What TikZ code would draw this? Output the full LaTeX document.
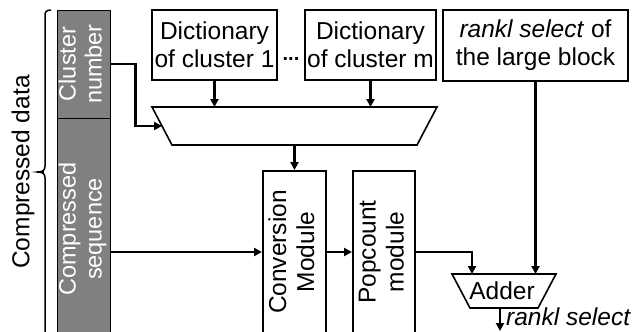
\documentclass[tikz,border=0pt]{standalone}
\usepackage{fontspec}
\usepackage{graphicx}
\setmainfont{Liberation Sans}
\usetikzlibrary{arrows.meta}
\definecolor{bargray}{RGB}{128,128,128}
\tikzset{
  box/.style={draw=black, line width=2bp, fill=white, inner sep=0pt, align=center,
    font=\fontsize{24.5bp}{28bp}\selectfont},
  graybox/.style={draw=black, line width=1bp, fill=bargray, inner sep=0pt, text=white,
    font=\fontsize{23.5bp}{26bp}\selectfont},
  arr/.style={line width=2.6bp, -{Triangle[length=8bp,width=8bp]}},
  shapeline/.style={draw=black, line width=1.6bp, fill=white},
  lbl/.style={inner sep=0pt, font=\fontsize{24.5bp}{28bp}\selectfont}
}
\begin{document}
\begin{tikzpicture}[x=1bp, y=-1bp]
\useasboundingbox (0,0) rectangle (635,331);
\clip (0,0) rectangle (635,331);
% left label and brace
\node[lbl, rotate=90] (cdata) at (23,172) {Compressed data};
\draw[line width=1.5bp] (51,10) .. controls (46,10) and (45,12) .. (45,16) -- (45,166)
  .. controls (45,170) and (43,172) .. (38,172) .. controls (43,172) and (45,174) .. (45,178) -- (45,335);
\draw[line width=2.5bp] (37,172) -- (44,172);
% gray bar
\node[graybox, minimum width=53bp, minimum height=108bp] (cn) at (83.5,64)
  {\rotatebox{90}{\begin{tabular}{@{}c@{}}Cluster\\number\end{tabular}}};
\node[graybox, minimum width=53bp, minimum height=222bp] (cs) at (83.5,229)
  {\rotatebox{90}{\begin{tabular}{@{}c@{}}Compressed\\sequence\end{tabular}}};
% dictionaries and rank/select box
\node[box, minimum width=125bp, minimum height=70bp] (d1) at (214.5,45) {Dictionary\\of cluster 1};
\node[box, minimum width=131bp, minimum height=70bp] (dm) at (370.5,45) {Dictionary\\of cluster m};
\node[lbl, font=\bfseries\fontsize{20bp}{22bp}\selectfont] (dots) at (291,59) {...};
\node[box, minimum width=185bp, minimum height=71bp] (rank) at (535.5,45.5) {\textit{rankl select} of\\the large block};
% mux
\draw[shapeline] (152,107) -- (437,107) -- (417,145) -- (172,145) -- cycle;
\coordinate (muxin) at (162,126);
\coordinate (muxtop) at (294,107);
\coordinate (muxout) at (294.5,145);
% modules
\node[box, minimum width=63bp, minimum height=162bp] (conv) at (294.5,252)
  {\rotatebox{90}{\begin{tabular}{@{}c@{}}Conversion\\Module\end{tabular}}};
\node[box, minimum width=62bp, minimum height=162bp] (pop) at (384,252)
  {\rotatebox{90}{\begin{tabular}{@{}c@{}}Popcount\\module\end{tabular}}};
% adder
\draw[shapeline] (452,274) -- (556,274) -- (538,308) -- (470,308) -- cycle;
\node[lbl] (adder) at (502,291) {Adder};
\coordinate (addin) at (472,274);
\coordinate (addout) at (500,308);
\coordinate (outend) at (500,331);
\node[lbl, anchor=west] (res) at (506,317) {\textit{rankl select}};
% connectors
\draw[arr] (cn.east) -- ++(25,0) |- (muxin);
\draw[arr] (d1.south) -- (d1.south |- muxtop);
\draw[arr] (dm.south) -- (dm.south |- muxtop);
\draw[arr] (muxout) -- (conv.north);
\draw[arr] (cs.east |- conv.west) -- (conv.west);
\draw[arr] (conv.east) -- (pop.west);
\draw[arr] (pop.east) -| (addin);
\draw[arr] (rank.south) -- (rank.south |- addin);
\draw[arr] (addout) -- (outend);
\end{tikzpicture}
\end{document}
